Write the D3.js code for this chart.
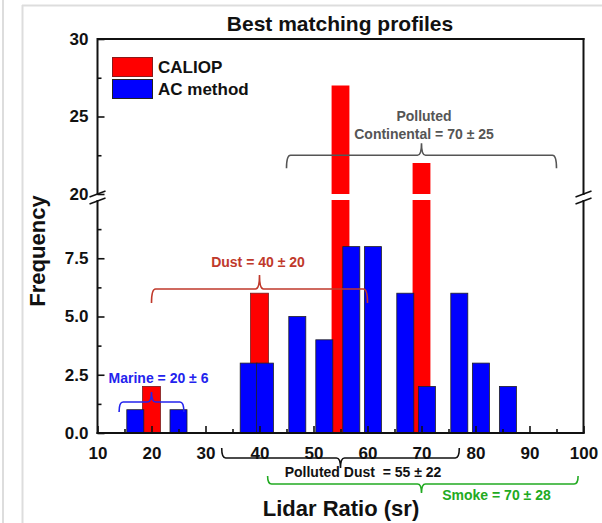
<!DOCTYPE html>
<html>
<head>
<meta charset="utf-8">
<script src="https://cdn.jsdelivr.net/npm/d3@7"></script>
<style>
  html, body { margin: 0; padding: 0; background: #fff; }
  svg { display: block; font-family: "Liberation Sans", Arial, sans-serif; font-weight: bold; }
</style>
</head>
<body>
<svg id="chart" width="602" height="523"></svg>
<script>
// ---------- data ----------
const caliopBins   = [20, 40, 55, 70];
const caliopValues = [2, 6, 27, 22];
const acBins   = [17, 25, 38, 41, 47, 52, 57, 61, 67, 71, 77, 81, 86];
const acValues = [1, 1, 3, 3, 5, 4, 8, 8, 6, 2, 6, 3, 2];
const xMajorTicks = [10, 20, 30, 40, 50, 60, 70, 80, 90, 100];
const xMinorTicks = [15, 25, 35, 45, 55, 65, 75, 85, 95];
const yLowMajor  = [0, 2.5, 5, 7.5];
const yLowMinor  = [1.25, 3.75, 6.25, 8.75];
const yHighMajor = [20, 25, 30];
const yHighMinor = [22.5, 27.5];
const seriesNames = ["CALIOP", "AC method"];
const braceNames  = ["Marine", "Dust", "Polluted Continental", "Polluted Dust", "Smoke"];
const braceCenter = [20, 40, 70, 55, 70];
const braceLo     = [14, 20, 45, 33, 41.5];
const braceHi     = [26, 60, 95, 77, 99];
const braceTexts  = [["Marine = 20 ± 6"], ["Dust = 40 ± 20"], ["Polluted", "Continental = 70 ± 25"],
                     ["Polluted Dust  = 55 ± 22"], ["Smoke = 70 ± 28"]];

// ---------- layout ----------
const svg = d3.select("#chart");
const L = 97.5, R = 583.5, T = 39, B = 433;
const x = d3.scaleLinear().domain([10, 100]).range([L, R]);
const yLow  = d3.scaleLinear().domain([0, 10]).range([B, 200]);
const yHigh = d3.scaleLinear().domain([20, 30]).range([194, T]);
const font = "'Liberation Sans', Arial, sans-serif";

// outer light frame
svg.append("line").attr("x1", 3).attr("x2", 3).attr("y1", 0).attr("y2", 523).attr("stroke", "#ddd").attr("stroke-width", 2);
svg.append("line").attr("x1", 22.5).attr("x2", 22.5).attr("y1", 5).attr("y2", 523).attr("stroke", "#ddd").attr("stroke-width", 2);
svg.append("line").attr("x1", 22).attr("x2", 602).attr("y1", 5.5).attr("y2", 5.5).attr("stroke", "#ddd").attr("stroke-width", 2);

// ---------- bars ----------
function drawBars(bins, vals, w, fill, stroke) {
  const g = svg.append("g");
  bins.forEach((b, i) => {
    const v = vals[i];
    const x0 = x(b - w / 2), x1 = x(b + w / 2);
    if (v <= 10) {
      g.append("rect").attr("x", x0).attr("width", x1 - x0)
        .attr("y", yLow(v)).attr("height", yLow(0) - yLow(v))
        .attr("fill", fill).attr("stroke", stroke).attr("stroke-width", 0.8);
    } else {
      g.append("rect").attr("x", x0).attr("width", x1 - x0)
        .attr("y", yLow(10)).attr("height", yLow(0) - yLow(10))
        .attr("fill", fill);
      g.append("rect").attr("x", x0).attr("width", x1 - x0)
        .attr("y", yHigh(v)).attr("height", yHigh(20) - yHigh(v))
        .attr("fill", fill);
    }
  });
}
drawBars(caliopBins, caliopValues, 3.3, "#ff0000", "#7a1a1a");
drawBars(acBins, acValues, 3.15, "#0000ff", "#222");

// ---------- axes ----------
function axisG(axis, tx, ty) {
  const g = svg.append("g").attr("transform", `translate(${tx},${ty})`).call(axis);
  g.select(".domain").remove();
  g.selectAll(".tick line").attr("stroke", "#111").attr("stroke-width", 1.6);
  g.selectAll(".tick text").attr("font-family", font).attr("font-weight", "bold")
    .attr("font-size", 17).attr("fill", "#111");
  return g;
}
axisG(d3.axisBottom(x).tickValues(xMajorTicks).tickSize(-7).tickPadding(14).tickFormat(d3.format("d")), 0, B);
axisG(d3.axisBottom(x).tickValues(xMinorTicks).tickSize(-4).tickFormat(""), 0, B);
axisG(d3.axisLeft(yLow).tickValues(yLowMajor).tickSize(-7).tickPadding(9).tickFormat(d3.format(".1f")), L, 0);
axisG(d3.axisLeft(yLow).tickValues(yLowMinor).tickSize(-4).tickFormat(""), L, 0);
axisG(d3.axisLeft(yHigh).tickValues(yHighMajor).tickSize(-7).tickPadding(9).tickFormat(d3.format("d")), L, 0);
axisG(d3.axisLeft(yHigh).tickValues(yHighMinor).tickSize(-4).tickFormat(""), L, 0);

// frame lines with break
const frame = svg.append("g").attr("stroke", "#111").attr("stroke-width", 2).attr("fill", "none");
frame.append("line").attr("x1", L).attr("x2", R + 1).attr("y1", T).attr("y2", T);
frame.append("line").attr("x1", L - 1).attr("x2", R + 1).attr("y1", B).attr("y2", B);
[L, R].forEach(ax => {
  frame.append("line").attr("x1", ax).attr("x2", ax).attr("y1", T - 1).attr("y2", 195);
  frame.append("line").attr("x1", ax).attr("x2", ax).attr("y1", 200).attr("y2", B + 1);
  frame.append("line").attr("x1", ax - 8).attr("x2", ax + 8).attr("y1", 197).attr("y2", 191).attr("stroke-width", 1.5);
  frame.append("line").attr("x1", ax - 8).attr("x2", ax + 8).attr("y1", 204).attr("y2", 198).attr("stroke-width", 1.5);
});

// ---------- legend ----------
const legColors = ["#ff0000", "#0000ff"];
const legStroke = ["#8b1a1a", "#222"];
seriesNames.forEach((n, i) => {
  svg.append("rect").attr("x", 112.5).attr("y", 57.5 + i * 22).attr("width", 40).attr("height", 19)
    .attr("fill", legColors[i]).attr("stroke", legStroke[i]).attr("stroke-width", 1);
  svg.append("text").attr("x", 158).attr("y", 73 + i * 22).attr("font-size", 17)
    .attr("font-family", font).attr("font-weight", "bold").attr("fill", "#111").text(n);
});

// ---------- braces ----------
// dir = 1: ends point down, cusp up (above); dir = -1: ends up, cusp down
function bracePath(x1, x2, xm, y, hEnd, hTip, dir) {
  const r = 4;
  return `M${x1},${y + dir * hEnd} Q${x1},${y} ${x1 + r},${y} L${xm - r},${y} Q${xm},${y} ${xm},${y - dir * hTip}` +
         ` Q${xm},${y} ${xm + r},${y} L${x2 - r},${y} Q${x2},${y} ${x2},${y + dir * hEnd}`;
}
const braceLayout = [
  { y: yLow(1.33),  hEnd: 10, hTip: 10, dir: 1,  color: "#2323ee", tx: 158.5, ty: [383] },
  { y: yLow(6.18),  hEnd: 14, hTip: 14, dir: 1,  color: "#c0392b", tx: 258,   ty: [267] },
  { y: yHigh(22.5), hEnd: 13, hTip: 12, dir: 1,  color: "#555555", tx: 424,   ty: [121, 139] },
  { y: 458,         hEnd: 10, hTip: 10, dir: -1, color: "#111111", tx: 363,   ty: [477] },
  { y: 484,         hEnd: 8,  hTip: 9,  dir: -1, color: "#22aa22", tx: 496.5, ty: [500] }
];
braceNames.forEach((nm, i) => {
  const lay = braceLayout[i];
  svg.append("path").attr("d", bracePath(x(braceLo[i]), x(braceHi[i]), x(braceCenter[i]), lay.y, lay.hEnd, lay.hTip, lay.dir))
    .attr("fill", "none").attr("stroke", lay.color).attr("stroke-width", 1.6);
  braceTexts[i].forEach((t, j) => {
    svg.append("text").attr("x", lay.tx).attr("y", lay.ty[j]).attr("text-anchor", "middle")
      .attr("font-family", font).attr("font-weight", "bold").attr("font-size", 14)
      .attr("fill", lay.color).style("white-space", "pre").text(t);
  });
});

// ---------- titles ----------
svg.append("text").attr("x", 340).attr("y", 31).attr("text-anchor", "middle")
  .attr("font-family", font).attr("font-weight", "bold").attr("font-size", 21).attr("fill", "#111")
  .text("Best matching profiles");
svg.append("text").attr("x", 341).attr("y", 516).attr("text-anchor", "middle")
  .attr("font-family", font).attr("font-weight", "bold").attr("font-size", 22).attr("fill", "#111")
  .text("Lidar Ratio (sr)");
svg.append("text").attr("transform", "translate(45,251) rotate(-90)").attr("text-anchor", "middle")
  .attr("font-family", font).attr("font-weight", "bold").attr("font-size", 22).attr("fill", "#111")
  .text("Frequency");
</script>
</body>
</html>
